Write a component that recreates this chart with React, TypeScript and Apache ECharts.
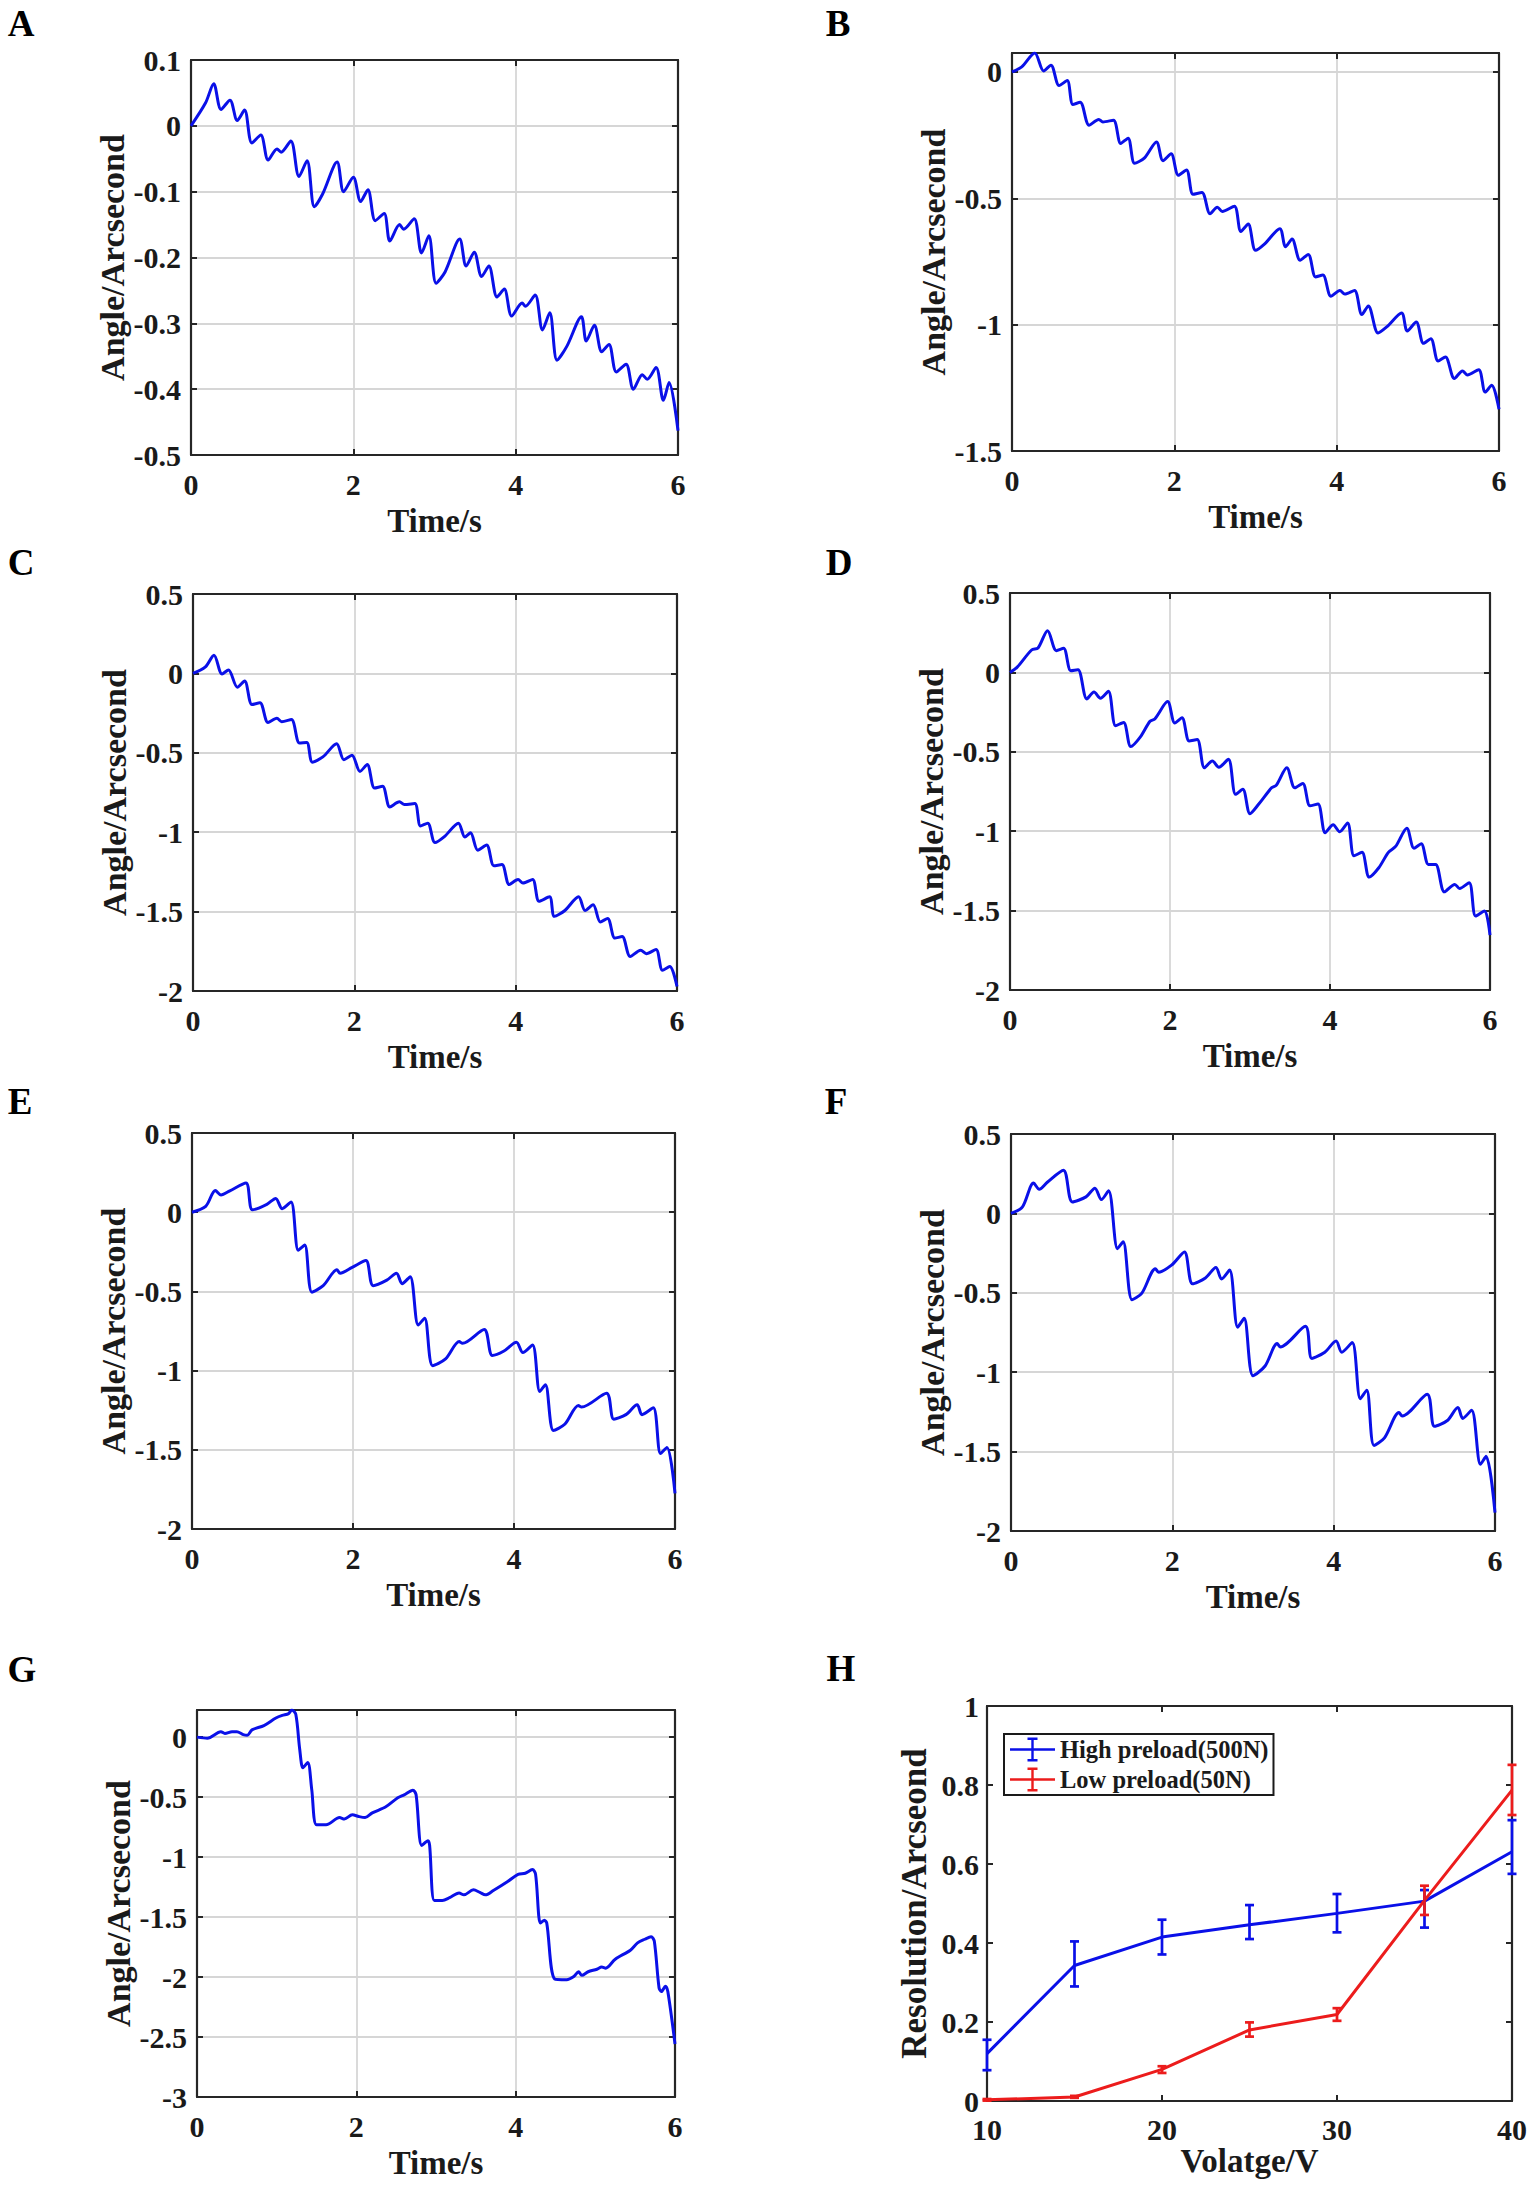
import React, { useEffect, useRef } from 'react';
import * as echarts from 'echarts';

// ---------- data ----------
const angleA: [number, number][] = [[0,0],[0.18,0.035],[0.28,0.064],[0.37,0.025],[0.48,0.039],[0.57,0.008],[0.66,0.024],[0.75,-0.026],[0.86,-0.014],[0.95,-0.052],[1.06,-0.035],[1.11,-0.04],[1.23,-0.023],[1.33,-0.077],[1.43,-0.053],[1.52,-0.123],[1.62,-0.104],[1.80,-0.055],[1.88,-0.10],[2.0,-0.078],[2.09,-0.115],[2.18,-0.097],[2.27,-0.144],[2.38,-0.133],[2.45,-0.175],[2.57,-0.15],[2.62,-0.157],[2.75,-0.141],[2.84,-0.193],[2.93,-0.167],[3.02,-0.239],[3.13,-0.222],[3.31,-0.172],[3.39,-0.213],[3.49,-0.192],[3.58,-0.229],[3.67,-0.213],[3.77,-0.26],[3.86,-0.248],[3.95,-0.289],[4.08,-0.269],[4.12,-0.274],[4.24,-0.257],[4.33,-0.31],[4.42,-0.284],[4.51,-0.356],[4.63,-0.335],[4.81,-0.29],[4.87,-0.327],[4.97,-0.303],[5.06,-0.343],[5.15,-0.332],[5.24,-0.374],[5.36,-0.362],[5.45,-0.4],[5.56,-0.378],[5.62,-0.385],[5.73,-0.367],[5.82,-0.417],[5.89,-0.39],[6.0,-0.463]];

const angleB: [number, number][] = [[0,0],[0.12,0.02],[0.28,0.075],[0.39,0.004],[0.48,0.027],[0.58,-0.054],[0.68,-0.034],[0.75,-0.129],[0.84,-0.12],[0.95,-0.211],[1.07,-0.188],[1.12,-0.198],[1.25,-0.191],[1.34,-0.283],[1.43,-0.262],[1.51,-0.361],[1.63,-0.341],[1.78,-0.277],[1.86,-0.351],[1.96,-0.324],[2.05,-0.409],[2.15,-0.388],[2.23,-0.484],[2.34,-0.477],[2.44,-0.561],[2.53,-0.535],[2.59,-0.552],[2.74,-0.531],[2.82,-0.631],[2.91,-0.602],[3.0,-0.706],[3.11,-0.681],[3.3,-0.62],[3.37,-0.692],[3.45,-0.661],[3.55,-0.745],[3.65,-0.722],[3.74,-0.811],[3.83,-0.804],[3.93,-0.888],[4.04,-0.865],[4.1,-0.879],[4.22,-0.865],[4.31,-0.96],[4.39,-0.926],[4.51,-1.033],[4.62,-1.008],[4.8,-0.954],[4.87,-1.025],[4.98,-0.99],[5.07,-1.074],[5.16,-1.056],[5.25,-1.144],[5.34,-1.128],[5.45,-1.213],[5.55,-1.183],[5.61,-1.199],[5.75,-1.178],[5.83,-1.267],[5.91,-1.24],[6.0,-1.335]];

const angleC: [number, number][] = [[0,0],[0.15,0.039],[0.26,0.115],[0.36,-0.004],[0.44,0.022],[0.55,-0.087],[0.64,-0.048],[0.73,-0.196],[0.83,-0.185],[0.93,-0.309],[1.04,-0.283],[1.10,-0.304],[1.22,-0.291],[1.32,-0.439],[1.41,-0.435],[1.48,-0.559],[1.61,-0.526],[1.78,-0.443],[1.87,-0.543],[1.97,-0.515],[2.07,-0.617],[2.16,-0.574],[2.25,-0.722],[2.35,-0.711],[2.44,-0.841],[2.56,-0.809],[2.62,-0.826],[2.75,-0.82],[2.82,-0.961],[2.91,-0.943],[3.0,-1.065],[3.12,-1.026],[3.29,-0.943],[3.37,-1.03],[3.44,-1.004],[3.53,-1.113],[3.64,-1.08],[3.73,-1.211],[3.83,-1.204],[3.92,-1.33],[4.03,-1.298],[4.09,-1.32],[4.21,-1.298],[4.29,-1.435],[4.42,-1.407],[4.48,-1.53],[4.61,-1.493],[4.78,-1.407],[4.86,-1.493],[4.96,-1.457],[5.05,-1.565],[5.14,-1.543],[5.23,-1.667],[5.32,-1.657],[5.42,-1.783],[5.55,-1.743],[5.62,-1.765],[5.74,-1.739],[5.82,-1.87],[5.91,-1.846],[6.0,-1.972]];

const angleD: [number, number][] = [[0,0],[0.09,0.033],[0.27,0.141],[0.35,0.154],[0.47,0.263],[0.58,0.137],[0.67,0.152],[0.76,0.011],[0.85,0.017],[0.96,-0.167],[1.05,-0.124],[1.13,-0.163],[1.23,-0.119],[1.32,-0.336],[1.42,-0.315],[1.51,-0.467],[1.63,-0.406],[1.75,-0.308],[1.81,-0.293],[1.97,-0.184],[2.06,-0.319],[2.15,-0.286],[2.24,-0.432],[2.34,-0.423],[2.43,-0.601],[2.53,-0.558],[2.61,-0.597],[2.73,-0.547],[2.82,-0.768],[2.91,-0.736],[3.0,-0.89],[3.11,-0.829],[3.27,-0.727],[3.33,-0.71],[3.46,-0.601],[3.56,-0.727],[3.66,-0.699],[3.75,-0.84],[3.85,-0.829],[3.94,-1.009],[4.04,-0.959],[4.12,-1.003],[4.22,-0.948],[4.3,-1.155],[4.4,-1.133],[4.49,-1.289],[4.61,-1.23],[4.73,-1.133],[4.82,-1.096],[4.96,-0.981],[5.05,-1.107],[5.14,-1.079],[5.23,-1.209],[5.32,-1.209],[5.43,-1.382],[5.56,-1.335],[5.62,-1.361],[5.74,-1.324],[5.82,-1.534],[5.93,-1.502],[6.0,-1.654]];

const angleE: [number, number][] = [[0,0],[0.17,0.037],[0.29,0.137],[0.36,0.109],[0.47,0.135],[0.67,0.185],[0.75,0.015],[0.93,0.05],[1.04,0.087],[1.12,0.022],[1.23,0.065],[1.32,-0.24],[1.4,-0.207],[1.49,-0.505],[1.63,-0.464],[1.8,-0.364],[1.84,-0.385],[1.99,-0.348],[2.16,-0.305],[2.25,-0.464],[2.42,-0.429],[2.54,-0.385],[2.61,-0.451],[2.71,-0.407],[2.81,-0.712],[2.89,-0.669],[2.99,-0.969],[3.15,-0.926],[3.32,-0.817],[3.36,-0.828],[3.63,-0.74],[3.73,-0.904],[3.87,-0.878],[4.03,-0.821],[4.11,-0.886],[4.23,-0.838],[4.32,-1.132],[4.39,-1.089],[4.49,-1.378],[4.63,-1.339],[4.8,-1.22],[4.84,-1.23],[5.15,-1.143],[5.24,-1.307],[5.39,-1.278],[5.53,-1.215],[5.59,-1.278],[5.73,-1.235],[5.82,-1.524],[5.9,-1.485],[6.0,-1.775]];

const angleF: [number, number][] = [[0,0],[0.14,0.039],[0.28,0.191],[0.35,0.152],[0.45,0.196],[0.65,0.272],[0.76,0.072],[0.93,0.104],[1.04,0.159],[1.12,0.087],[1.21,0.143],[1.32,-0.222],[1.39,-0.178],[1.5,-0.543],[1.62,-0.504],[1.79,-0.348],[1.83,-0.37],[1.99,-0.326],[2.15,-0.243],[2.25,-0.443],[2.41,-0.407],[2.54,-0.341],[2.61,-0.413],[2.71,-0.357],[2.81,-0.717],[2.89,-0.661],[3.0,-1.022],[3.15,-0.961],[3.3,-0.82],[3.34,-0.841],[3.65,-0.711],[3.73,-0.913],[3.89,-0.874],[4.03,-0.804],[4.1,-0.874],[4.23,-0.813],[4.33,-1.167],[4.41,-1.113],[4.5,-1.461],[4.63,-1.413],[4.81,-1.254],[4.85,-1.276],[5.16,-1.139],[5.25,-1.341],[5.41,-1.304],[5.54,-1.222],[5.6,-1.291],[5.71,-1.239],[5.82,-1.58],[5.89,-1.53],[6.0,-1.885]];

const angleG: [number, number][] = [[0,0],[0.13,-0.009],[0.3,0.045],[0.35,0.03],[0.44,0.045],[0.5,0.045],[0.58,0.021],[0.63,0.015],[0.69,0.06],[0.84,0.096],[0.99,0.159],[1.07,0.181],[1.15,0.196],[1.19,0.226],[1.24,0.19],[1.29,-0.105],[1.33,-0.256],[1.39,-0.211],[1.44,-0.436],[1.5,-0.731],[1.62,-0.731],[1.79,-0.671],[1.85,-0.683],[1.95,-0.647],[2.03,-0.662],[2.11,-0.671],[2.2,-0.632],[2.37,-0.581],[2.52,-0.506],[2.6,-0.481],[2.71,-0.442],[2.75,-0.481],[2.82,-0.903],[2.9,-0.864],[2.92,-0.903],[2.98,-1.363],[3.08,-1.363],[3.17,-1.339],[3.29,-1.3],[3.35,-1.315],[3.47,-1.273],[3.55,-1.294],[3.62,-1.315],[3.72,-1.279],[3.9,-1.204],[4.03,-1.144],[4.12,-1.135],[4.21,-1.104],[4.25,-1.144],[4.31,-1.55],[4.36,-1.526],[4.39,-1.55],[4.49,-2.016],[4.64,-2.022],[4.73,-1.995],[4.79,-1.956],[4.83,-1.986],[4.91,-1.956],[5.02,-1.935],[5.08,-1.917],[5.13,-1.926],[5.25,-1.851],[5.44,-1.776],[5.53,-1.715],[5.62,-1.685],[5.7,-1.664],[5.74,-1.7],[5.8,-2.091],[5.83,-2.121],[5.88,-2.076],[5.91,-2.121],[6.0,-2.558]];

// panel H
const voltage = [10, 15, 20, 25, 30, 35, 40];
const highPreload = [0.12, 0.343, 0.415, 0.446, 0.475, 0.506, 0.631];
const highLower = [0.078, 0.29, 0.371, 0.41, 0.427, 0.439, 0.575];
const highUpper = [0.155, 0.404, 0.459, 0.496, 0.524, 0.534, 0.711];
const lowPreload = [0.003, 0.01, 0.08, 0.18, 0.219, 0.508, 0.787];
const lowLower = [0.001, 0.008, 0.071, 0.163, 0.203, 0.471, 0.724];
const lowUpper = [0.005, 0.013, 0.088, 0.199, 0.235, 0.545, 0.851];

const timeTicks = { min: 0, max: 6, interval: 2 };
const yRanges = [
  { min: -0.5, max: 0.1, interval: 0.1 },
  { min: -1.5, max: 0.075, interval: 0.5 },
  { min: -2, max: 0.5, interval: 0.5 },
  { min: -2, max: 0.5, interval: 0.5 },
  { min: -2, max: 0.5, interval: 0.5 },
  { min: -2, max: 0.5, interval: 0.5 },
  { min: -3, max: 0.226, interval: 0.5 },
];
const panelSeries = [angleA, angleB, angleC, angleD, angleE, angleF, angleG];
const panelLetters = ['A', 'B', 'C', 'D', 'E', 'F', 'G', 'H'];
const highName = 'High preload(500N)';
const lowName = 'Low preload(50N)';

// ---------- layout ----------
const layout = [
  { left: 191, top: 60, width: 487, height: 395, lx: 21, ly: 23 },
  { left: 1012, top: 53, width: 487, height: 398, lx: 838, ly: 23 },
  { left: 193, top: 594, width: 484, height: 397, lx: 21, ly: 562 },
  { left: 1010, top: 593, width: 480, height: 397, lx: 839, ly: 562 },
  { left: 192, top: 1133, width: 483, height: 396, lx: 20, ly: 1101 },
  { left: 1011, top: 1134, width: 484, height: 397, lx: 836, ly: 1101 },
  { left: 197, top: 1710, width: 478, height: 387, lx: 22, ly: 1669 },
  { left: 987, top: 1706, width: 525, height: 395, lx: 841, ly: 1668 },
];

const FONT = '"Liberation Serif", "Times New Roman", Times, serif';
const TEXT = '#1a1a1a';
const AXIS = '#262626';
const GRIDC = '#d6d6d6';
const BLUE = '#0a10e8';
const RED = '#ec1c1c';

const LEGEND_ICON =
  'path://M0,10.8H45V13.2H0Z M21.3,1H23.7V23H21.3Z M17.5,0H27.5V2.4H17.5Z M17.5,21.6H27.5V24H17.5Z';

function fmt(interval: number) {
  return (v: number) => {
    const k = v / interval;
    if (Math.abs(k - Math.round(k)) > 1e-6) return '';
    return String(Number(v.toFixed(4)));
  };
}

function buildOption() {
  const grid: any[] = [];
  const xAxis: any[] = [];
  const yAxis: any[] = [];
  const series: any[] = [];
  const graphic: any[] = [];

  const lineStyleAxis = { color: AXIS, width: 2.2 };
  const tickStyle = { show: true, inside: true, length: 6, lineStyle: { color: AXIS, width: 2 } };
  const labelBase = { fontFamily: FONT, fontWeight: 'bold', color: TEXT, fontSize: 30 };
  const nameBase = { fontFamily: FONT, fontWeight: 'bold', color: TEXT, fontSize: 33 };

  layout.forEach((p, i) => {
    grid.push({ left: p.left, top: p.top, width: p.width, height: p.height });
    graphic.push({
      type: 'text',
      x: p.lx,
      y: p.ly,
      style: {
        text: panelLetters[i],
        fontFamily: FONT,
        fontWeight: 'bold',
        fontSize: 37,
        fill: '#000',
        textAlign: 'center',
        textVerticalAlign: 'middle',
      },
    });

    const isH = i === 7;
    const xr = isH ? { min: 10, max: 40, interval: 10 } : timeTicks;
    const yr = isH ? { min: 0, max: 1, interval: 0.2 } : yRanges[i];
    const split = { show: !isH, showMinLine: false, showMaxLine: false, lineStyle: { color: GRIDC, width: 1.8 } };

    xAxis.push({
      gridIndex: i,
      type: 'value',
      position: 'bottom',
      ...xr,
      name: isH ? 'Volatge/V' : 'Time/s',
      nameLocation: 'middle',
      nameGap: isH ? 42 : 49,
      nameTextStyle: nameBase,
      axisLine: { show: true, onZero: false, lineStyle: lineStyleAxis },
      axisTick: tickStyle,
      axisLabel: { ...labelBase, margin: isH ? 13 : 14, formatter: fmt(xr.interval) },
      splitLine: split,
    });
    xAxis.push({
      gridIndex: i,
      type: 'value',
      position: 'top',
      ...xr,
      axisLine: { show: true, onZero: false, lineStyle: lineStyleAxis },
      axisTick: tickStyle,
      axisLabel: { show: false },
      splitLine: { show: false },
    });
    yAxis.push({
      gridIndex: i,
      type: 'value',
      position: 'left',
      ...yr,
      name: isH ? 'Resolution/Arcseond' : 'Angle/Arcsecond',
      nameLocation: 'middle',
      nameRotate: 90,
      nameGap: isH ? 55 : 62,
      nameTextStyle: { ...nameBase, fontSize: isH ? 35 : 34 },
      axisLine: { show: true, onZero: false, lineStyle: lineStyleAxis },
      axisTick: tickStyle,
      axisLabel: { ...labelBase, margin: isH ? 8 : 10, formatter: fmt(yr.interval) },
      splitLine: split,
    });
    yAxis.push({
      gridIndex: i,
      type: 'value',
      position: 'right',
      ...yr,
      axisLine: { show: true, onZero: false, lineStyle: lineStyleAxis },
      axisTick: tickStyle,
      axisLabel: { show: false },
      splitLine: { show: false },
    });

    if (!isH) {
      series.push({
        type: 'line',
        xAxisIndex: 2 * i,
        yAxisIndex: 2 * i,
        data: panelSeries[i],
        symbol: 'none',
        smooth: 0.3,
        lineStyle: { color: BLUE, width: 3 },
        itemStyle: { color: BLUE },
        z: 3,
      });
    }
  });

  const hx = 14;
  const hy = 14;
  const errSeries = (name: string, color: string, lo: number[], hi: number[]) => ({
    type: 'custom',
    name: name + ' error',
    xAxisIndex: hx,
    yAxisIndex: hy,
    clip: false,
    z: 4,
    data: voltage.map((v, k) => [v, lo[k], hi[k]]),
    encode: { x: 0, y: [1, 2] },
    renderItem: (params: any, api: any) => {
      const x = api.value(0);
      const a = api.coord([x, api.value(1)]);
      const b = api.coord([x, api.value(2)]);
      const w = 4.5;
      const style = { stroke: color, lineWidth: 2.7 };
      return {
        type: 'group',
        children: [
          { type: 'line', shape: { x1: a[0], y1: a[1], x2: b[0], y2: b[1] }, style },
          { type: 'line', shape: { x1: a[0] - w, y1: a[1], x2: a[0] + w, y2: a[1] }, style },
          { type: 'line', shape: { x1: b[0] - w, y1: b[1], x2: b[0] + w, y2: b[1] }, style },
        ],
      };
    },
  });

  series.push({
    type: 'line',
    name: highName,
    xAxisIndex: hx,
    yAxisIndex: hy,
    data: voltage.map((v, k) => [v, highPreload[k]]),
    symbol: 'none',
    lineStyle: { color: BLUE, width: 3 },
    itemStyle: { color: BLUE },
    z: 3,
  });
  series.push({
    type: 'line',
    name: lowName,
    xAxisIndex: hx,
    yAxisIndex: hy,
    data: voltage.map((v, k) => [v, lowPreload[k]]),
    symbol: 'none',
    lineStyle: { color: RED, width: 3 },
    itemStyle: { color: RED },
    z: 3,
  });
  series.push(errSeries(highName, BLUE, highLower, highUpper));
  series.push(errSeries(lowName, RED, lowLower, lowUpper));

  return {
    animation: false,
    backgroundColor: '#ffffff',
    grid,
    xAxis,
    yAxis,
    series,
    graphic,
    legend: {
      left: 1004,
      top: 1734,
      orient: 'vertical',
      padding: [3, 5, 3, 6],
      itemGap: 5,
      itemWidth: 45,
      itemHeight: 24,
      borderColor: '#1a1a1a',
      borderWidth: 2,
      backgroundColor: '#ffffff',
      selectedMode: false,
      textStyle: { fontFamily: FONT, fontWeight: 'bold', fontSize: 24.5, color: TEXT },
      data: [
        { name: highName, icon: LEGEND_ICON },
        { name: lowName, icon: LEGEND_ICON },
      ],
    },
  };
}

export default function App() {
  const ref = useRef<HTMLDivElement>(null);
  useEffect(() => {
    if (!ref.current) return;
    const chart = echarts.init(ref.current, undefined, { renderer: 'svg' });
    chart.setOption(buildOption() as any);
    return () => {
      chart.dispose();
    };
  }, []);
  return (
    <div
      ref={ref}
      style={{ position: 'absolute', left: 0, top: 0, width: 1535, height: 2186, background: '#fff' }}
    />
  );
}
